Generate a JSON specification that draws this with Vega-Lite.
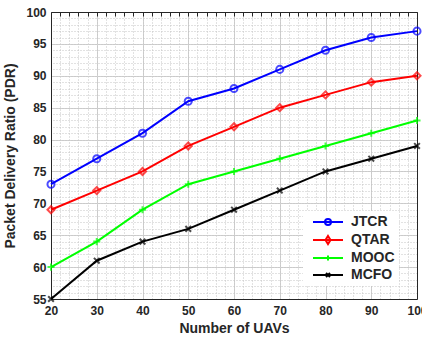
{
  "$schema": "https://vega.github.io/schema/vega-lite/v6.json",
  "width": 366,
  "height": 287,
  "autosize": {"type": "none"},
  "padding": {"left": 51, "top": 12, "right": 5, "bottom": 40},
  "background": "white",
  "config": {
    "view": {"stroke": null},
    "font": "Liberation Sans",
    "axis": {"labelFont": "Liberation Sans", "titleFont": "Liberation Sans"}
  },
  "data": {
    "values": [
      {"uavs": 20, "pdr": 73, "method": "JTCR"},
      {"uavs": 30, "pdr": 77, "method": "JTCR"},
      {"uavs": 40, "pdr": 81, "method": "JTCR"},
      {"uavs": 50, "pdr": 86, "method": "JTCR"},
      {"uavs": 60, "pdr": 88, "method": "JTCR"},
      {"uavs": 70, "pdr": 91, "method": "JTCR"},
      {"uavs": 80, "pdr": 94, "method": "JTCR"},
      {"uavs": 90, "pdr": 96, "method": "JTCR"},
      {"uavs": 100, "pdr": 97, "method": "JTCR"},
      {"uavs": 20, "pdr": 69, "method": "QTAR"},
      {"uavs": 30, "pdr": 72, "method": "QTAR"},
      {"uavs": 40, "pdr": 75, "method": "QTAR"},
      {"uavs": 50, "pdr": 79, "method": "QTAR"},
      {"uavs": 60, "pdr": 82, "method": "QTAR"},
      {"uavs": 70, "pdr": 85, "method": "QTAR"},
      {"uavs": 80, "pdr": 87, "method": "QTAR"},
      {"uavs": 90, "pdr": 89, "method": "QTAR"},
      {"uavs": 100, "pdr": 90, "method": "QTAR"},
      {"uavs": 20, "pdr": 60, "method": "MOOC"},
      {"uavs": 30, "pdr": 64, "method": "MOOC"},
      {"uavs": 40, "pdr": 69, "method": "MOOC"},
      {"uavs": 50, "pdr": 73, "method": "MOOC"},
      {"uavs": 60, "pdr": 75, "method": "MOOC"},
      {"uavs": 70, "pdr": 77, "method": "MOOC"},
      {"uavs": 80, "pdr": 79, "method": "MOOC"},
      {"uavs": 90, "pdr": 81, "method": "MOOC"},
      {"uavs": 100, "pdr": 83, "method": "MOOC"},
      {"uavs": 20, "pdr": 55, "method": "MCFO"},
      {"uavs": 30, "pdr": 61, "method": "MCFO"},
      {"uavs": 40, "pdr": 64, "method": "MCFO"},
      {"uavs": 50, "pdr": 66, "method": "MCFO"},
      {"uavs": 60, "pdr": 69, "method": "MCFO"},
      {"uavs": 70, "pdr": 72, "method": "MCFO"},
      {"uavs": 80, "pdr": 75, "method": "MCFO"},
      {"uavs": 90, "pdr": 77, "method": "MCFO"},
      {"uavs": 100, "pdr": 79, "method": "MCFO"}
    ]
  },
  "resolve": {"axis": {"x": "independent", "y": "independent"}},
  "layer": [
    {
      "mark": {"type": "line", "strokeWidth": 2},
      "encoding": {
        "x": {
          "field": "uavs", "type": "quantitative",
          "scale": {"domain": [20, 100], "nice": false, "zero": false},
          "axis": {
            "orient": "bottom",
            "title": "Number of UAVs",
            "titleFontSize": 14, "titleFontWeight": "bold", "titleColor": "#262626", "titlePadding": 5,
            "values": [20, 30, 40, 50, 60, 70, 80, 90, 100],
            "labelFontSize": 12, "labelFontWeight": "bold", "labelColor": "#262626", "labelPadding": 6,
            "labelFlush": false, "labelOverlap": false, "labelBound": false,
            "grid": true, "gridColor": "#d0d0d0", "gridWidth": 1,
            "ticks": false,
            "domainColor": "#262626", "domainWidth": 1
          }
        },
        "y": {
          "field": "pdr", "type": "quantitative",
          "scale": {"domain": [55, 100], "nice": false, "zero": false},
          "axis": {
            "orient": "left",
            "title": "Packet Delivery Ratio (PDR)",
            "titleFontSize": 14, "titleFontWeight": "bold", "titleColor": "#262626", "titlePadding": 8,
            "values": [55, 60, 65, 70, 75, 80, 85, 90, 95, 100],
            "labelFontSize": 12, "labelFontWeight": "bold", "labelColor": "#262626", "labelPadding": 5,
            "labelFlush": false, "labelOverlap": false, "labelBound": false,
            "grid": true, "gridColor": "#d0d0d0", "gridWidth": 1,
            "ticks": false,
            "domainColor": "#262626", "domainWidth": 1
          }
        },
        "color": {
          "field": "method", "type": "nominal",
          "scale": {"domain": ["JTCR", "QTAR", "MOOC", "MCFO"], "range": ["#0000ff", "#ff0000", "#00ff00", "#000000"]},
          "legend": {
            "title": null,
            "orient": "none", "legendX": 252, "legendY": 199,
            "labelFontSize": 14, "labelFontWeight": "bold", "labelColor": "#262626",
            "symbolSize": 100, "symbolStrokeWidth": 2,
            "symbolOffset": 14, "labelOffset": 16, "rowPadding": 3,
            "fillColor": "white", "padding": 4,
            "encode": {
              "symbols": {
                "update": {
                  "shape": {"signal": "datum.value === 'JTCR' ? 'M-3,0L3,0M-0.6,0A0.6,0.6 0 1,1 0.6,0A0.6,0.6 0 1,1 -0.6,0' : datum.value === 'QTAR' ? 'M-3,0L3,0M0,-0.8L0.5,0L0,0.8L-0.5,0Z' : datum.value === 'MOOC' ? 'M-3,0L3,0M0,-0.5L0,0.5' : 'M-3,0L3,0M-0.4,-0.4L0.4,0.4M-0.4,0.4L0.4,-0.4'"},
                  "fill": {"value": "transparent"}
                }
              }
            }
          }
        }
      }
    },
    {
      "mark": {"type": "point", "filled": false, "strokeWidth": 2, "size": 50},
      "encoding": {
        "x": {
          "field": "uavs", "type": "quantitative",
          "axis": {
            "orient": "top", "title": null, "labels": false, "ticks": true, "tickSize": -4, "tickColor": "#262626",
            "values": [20, 22, 24, 26, 28, 30, 32, 34, 36, 38, 40, 42, 44, 46, 48, 50, 52, 54, 56, 58, 60, 62, 64, 66, 68, 70, 72, 74, 76, 78, 80, 82, 84, 86, 88, 90, 92, 94, 96, 98, 100],
            "grid": true, "gridColor": "#c4c4c4", "gridDash": [1, 2], "gridWidth": 1,
            "domainColor": "#262626", "domainWidth": 1
          }
        },
        "y": {
          "field": "pdr", "type": "quantitative",
          "axis": {
            "orient": "right", "title": null, "labels": false, "ticks": false,
            "values": [55, 56, 57, 58, 59, 60, 61, 62, 63, 64, 65, 66, 67, 68, 69, 70, 71, 72, 73, 74, 75, 76, 77, 78, 79, 80, 81, 82, 83, 84, 85, 86, 87, 88, 89, 90, 91, 92, 93, 94, 95, 96, 97, 98, 99, 100],
            "grid": true, "gridColor": "#c4c4c4", "gridDash": [1, 2], "gridWidth": 1,
            "domainColor": "#262626", "domainWidth": 1
          }
        },
        "color": {"field": "method", "type": "nominal"},
        "shape": {
          "condition": [
            {"test": "datum.method === 'JTCR'", "value": "circle"},
            {"test": "datum.method === 'QTAR'", "value": "diamond"},
            {"test": "datum.method === 'MOOC'", "value": "M0,-1L0,1M-1,0L1,0"}
          ],
          "value": "M-0.8,-0.8L0.8,0.8M-0.8,0.8L0.8,-0.8"
        }
      }
    }
  ]
}
